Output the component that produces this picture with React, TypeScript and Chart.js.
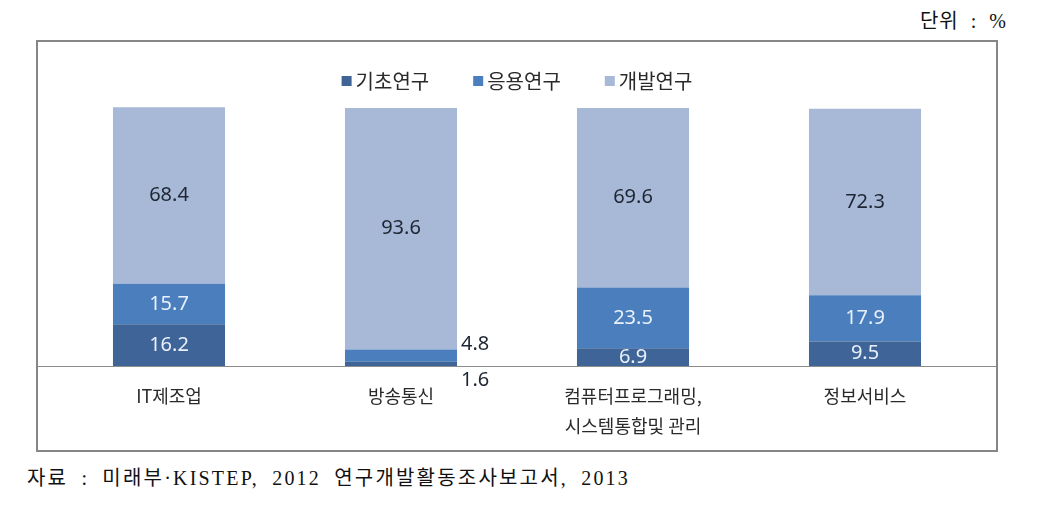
import React, { useEffect, useRef } from "react";
import { Chart, registerables } from "chart.js";

Chart.register(...registerables);

// ---- data ----
const categories: string[][] = [
  ["IT제조업"],
  ["방송통신"],
  ["컴퓨터프로그래밍,", "시스템통합및 관리"],
  ["정보서비스"],
];
const seriesNames = ["기초연구", "응용연구", "개발연구"];
const basicResearch = [16.2, 1.6, 6.9, 9.5];
const appliedResearch = [15.7, 4.8, 23.5, 17.9];
const developmentResearch = [68.4, 93.6, 69.6, 72.3];
const unitText = "단위 : %";
const sourceText = "자료 : 미래부·KISTEP, 2012 연구개발활동조사보고서, 2013";

// ---- styles ----
const seriesColors = ["#3f6497", "#4a7ebd", "#a8b9d8"];
const sansFamily = "'Noto Sans CJK KR', 'Noto Sans', sans-serif";
const numFamily = "'Noto Sans', 'Noto Sans CJK KR', sans-serif";
const serifFamily = "'Liberation Serif', 'DejaVu Serif', 'Noto Sans CJK KR', serif";

const valueLabelPlugin = {
  id: "valueLabels",
  afterDatasetsDraw(chart: any) {
    const ctx = chart.ctx;
    ctx.save();
    ctx.font = `20px ${numFamily}`;
    ctx.textBaseline = "middle";
    chart.data.datasets.forEach((ds: any, di: number) => {
      const meta = chart.getDatasetMeta(di);
      meta.data.forEach((el: any, i: number) => {
        const v = ds.data[i] as number;
        const p = el.getProps(["x", "y", "base", "width"], true);
        let x = p.x;
        let y = (p.y + p.base) / 2;
        let align: CanvasTextAlign = "center";
        let color = di === 2 ? "#1e2633" : "#e8f0fb";
        if (v < 5) {
          x = p.x + p.width / 2 + 4;
          align = "left";
          y = di === 0 ? p.base + 14 : p.y - 5;
          color = "#1e2633";
        }
        ctx.textAlign = align;
        ctx.fillStyle = color;
        ctx.fillText(v.toFixed(1), x, y);
      });
    });
    ctx.restore();
  },
};

const baselinePlugin = {
  id: "baseline",
  afterDatasetsDraw(chart: any) {
    const ctx = chart.ctx;
    const y = Math.round(chart.scales.y.getPixelForValue(0)) + 0.5;
    ctx.save();
    ctx.strokeStyle = "#8c8c8c";
    ctx.lineWidth = 1;
    ctx.beginPath();
    ctx.moveTo(0, y);
    ctx.lineTo(chart.width, y);
    ctx.stroke();
    ctx.restore();
  },
};

const legendPlugin = {
  id: "customLegend",
  afterDraw(chart: any) {
    const ctx = chart.ctx;
    ctx.save();
    ctx.font = `20px ${sansFamily}`;
    ctx.textBaseline = "middle";
    ctx.textAlign = "left";
    const box = 10;
    const gapBoxText = 4;
    const gapItems = 44;
    const items = chart.data.datasets.map((ds: any) => ({
      label: ds.label as string,
      color: ds.backgroundColor as string,
      w: ctx.measureText(ds.label).width,
    }));
    const total =
      items.reduce((s: number, it: any) => s + box + gapBoxText + it.w, 0) +
      gapItems * (items.length - 1);
    let x = chart.width / 2 - total / 2;
    const cy = 39;
    items.forEach((it: any) => {
      ctx.fillStyle = it.color;
      ctx.fillRect(x, cy - box / 2, box, box);
      x += box + gapBoxText;
      ctx.fillStyle = "#2a2a2a";
      ctx.fillText(it.label, x, cy);
      x += it.w + gapItems;
    });
    ctx.restore();
  },
};

function StackedChart() {
  const ref = useRef<HTMLCanvasElement | null>(null);
  useEffect(() => {
    if (!ref.current) return;
    const chart = new Chart(ref.current, {
      type: "bar",
      data: {
        labels: categories,
        datasets: [basicResearch, appliedResearch, developmentResearch].map((d, i) => ({
          label: seriesNames[i],
          data: d,
          backgroundColor: seriesColors[i],
          borderWidth: 0,
          categoryPercentage: 1,
          barPercentage: 0.483,
          clip: false,
        })),
      },
      options: {
        animation: false,
        responsive: false,
        maintainAspectRatio: false,
        layout: { padding: { left: 15, right: 15, top: 66, bottom: 0 } },
        plugins: {
          legend: { display: false },
          tooltip: { enabled: false },
        },
        scales: {
          x: {
            stacked: true,
            grid: { display: false, drawTicks: false },
            border: { display: false },
            ticks: {
              color: "#2a2a2a",
              font: { family: sansFamily, size: 18, lineHeight: 30 / 18 },
              padding: 15,
              maxRotation: 0,
              autoSkip: false,
            },
            afterFit(scale: any) {
              scale.height = 84;
            },
          },
          y: {
            stacked: true,
            display: false,
            min: 0,
            max: 100,
          },
        },
      },
      plugins: [baselinePlugin, valueLabelPlugin, legendPlugin],
    } as any);
    return () => chart.destroy();
  }, []);
  return <canvas ref={ref} width={958} height={408} style={{ display: "block", width: 958, height: 408 }} />;
}

export default function App() {
  return (
    <div
      style={{
        position: "absolute",
        left: 0,
        top: 0,
        width: 1046,
        height: 509,
        background: "#ffffff",
        overflow: "hidden",
      }}
    >
      <div
        style={{
          position: "absolute",
          right: 39,
          top: 8,
          fontFamily: serifFamily,
          fontSize: 20,
          lineHeight: "26px",
          letterSpacing: "1px",
          wordSpacing: "6px",
          color: "#111",
          whiteSpace: "nowrap",
        }}
      >
        {unitText}
      </div>
      <div
        style={{
          position: "absolute",
          left: 36,
          top: 40,
          width: 958,
          height: 408,
          border: "2px solid #868686",
        }}
      >
        <StackedChart />
      </div>
      <div
        style={{
          position: "absolute",
          left: 27,
          top: 465,
          fontFamily: serifFamily,
          fontSize: 20,
          lineHeight: "26px",
          letterSpacing: "2.2px",
          wordSpacing: "6px",
          color: "#111",
          whiteSpace: "nowrap",
        }}
      >
        {sourceText}
      </div>
    </div>
  );
}
